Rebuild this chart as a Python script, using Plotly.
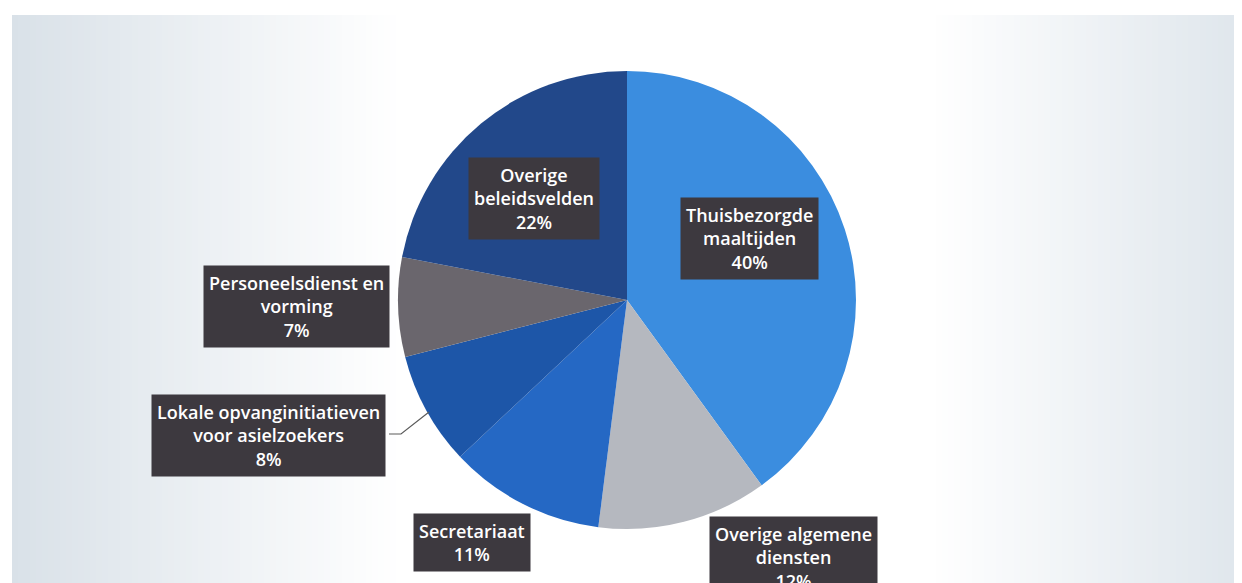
import plotly.graph_objects as go

# ------------------------------------------------------------
# Data
# ------------------------------------------------------------

labels = [
    "Thuisbezorgde maaltijden",
    "Overige algemene diensten",
    "Secretariaat",
    "Lokale opvanginitiatieven voor asielzoekers",
    "Personeelsdienst en vorming",
    "Overige beleidsvelden",
]
shares = [40, 12, 11, 8, 7, 22]

# label text as it is broken over lines in the boxes
label_lines = [
    "Thuisbezorgde<br>maaltijden",
    "Overige algemene<br>diensten",
    "Secretariaat",
    "Lokale opvanginitiatieven<br>voor asielzoekers",
    "Personeelsdienst en<br>vorming",
    "Overige<br>beleidsvelden",
]

colours = ["#3b8ddf", "#b5b8bf", "#2568c4", "#1d56a8", "#6a666d", "#22488a"]

W, H = 1242, 583
OFF = 8  # the page puts the figure 8 px in from the top-left corner

# box centres in pixels of the screenshot (x, y from top)
box_pos = [(749, 238), (793, 557), (472, 542), (268, 435), (296, 306), (534, 198)]


def px(x):
    return (x - OFF) / W


def py(y):
    return 1 - (y - OFF) / H


fig = go.Figure()

# ------------------------------------------------------------
# Pie
# ------------------------------------------------------------

cx, cy, r = 627, 300, 229

fig.add_trace(
    go.Pie(
        labels=labels,
        values=shares,
        sort=False,
        direction="clockwise",
        rotation=0,
        textinfo="none",
        hoverinfo="label+percent",
        marker=dict(colors=colours, line=dict(width=0)),
        domain=dict(x=[px(cx - r), px(cx + r)], y=[py(cy + r), py(cy - r)]),
        showlegend=False,
    )
)

# ------------------------------------------------------------
# Background panel (soft gradient at both sides)
# ------------------------------------------------------------

def mix(c1, c2, t):
    a = [int(c1[i:i + 2], 16) for i in (1, 3, 5)]
    b = [int(c2[i:i + 2], 16) for i in (1, 3, 5)]
    return "rgb({},{},{})".format(*[round(a[k] + (b[k] - a[k]) * t) for k in range(3)])

shapes = []
step = 6
x0 = 12
while x0 < W + OFF:
    xm = x0 + step / 2
    if xm < 400:
        col = mix("#d9e1e8", "#ffffff", (xm - 12) / 388)
    elif xm < 930:
        col = "#ffffff"
    else:
        col = mix("#ffffff", "#dfe6ec", min((xm - 930) / 312, 1))
    shapes.append(dict(
        type="rect", xref="paper", yref="paper", layer="below",
        x0=px(x0), x1=px(x0 + step + 1), y0=py(H + OFF), y1=py(15),
        fillcolor=col, line=dict(width=0),
    ))
    x0 += step

# leader line for the small slice on the left
shapes.append(dict(
    type="path", xref="paper", yref="paper",
    path="M {} {} L {} {} L {} {}".format(
        px(389), py(434), px(401), py(434), px(429), py(412)),
    line=dict(color="#5a5a5a", width=1.2),
))

# ------------------------------------------------------------
# Labels
# ------------------------------------------------------------

annotations = []
for text, val, (bx, by) in zip(label_lines, shares, box_pos):
    annotations.append(dict(
        x=px(bx), y=py(by), xref="paper", yref="paper",
        xanchor="center", yanchor="middle",
        text=f"{text}<br>{val}%",
        showarrow=False,
        align="center",
        bgcolor="#3d393f",
        borderpad=5,
        font=dict(family="Open Sans, sans-serif", size=18, color="white",
                  weight=600),
    ))

fig.update_layout(
    width=W,
    height=H,
    margin=dict(l=0, r=0, t=0, b=0),
    paper_bgcolor="white",
    plot_bgcolor="white",
    shapes=shapes,
    annotations=annotations,
)

fig.write_html("out.html")
